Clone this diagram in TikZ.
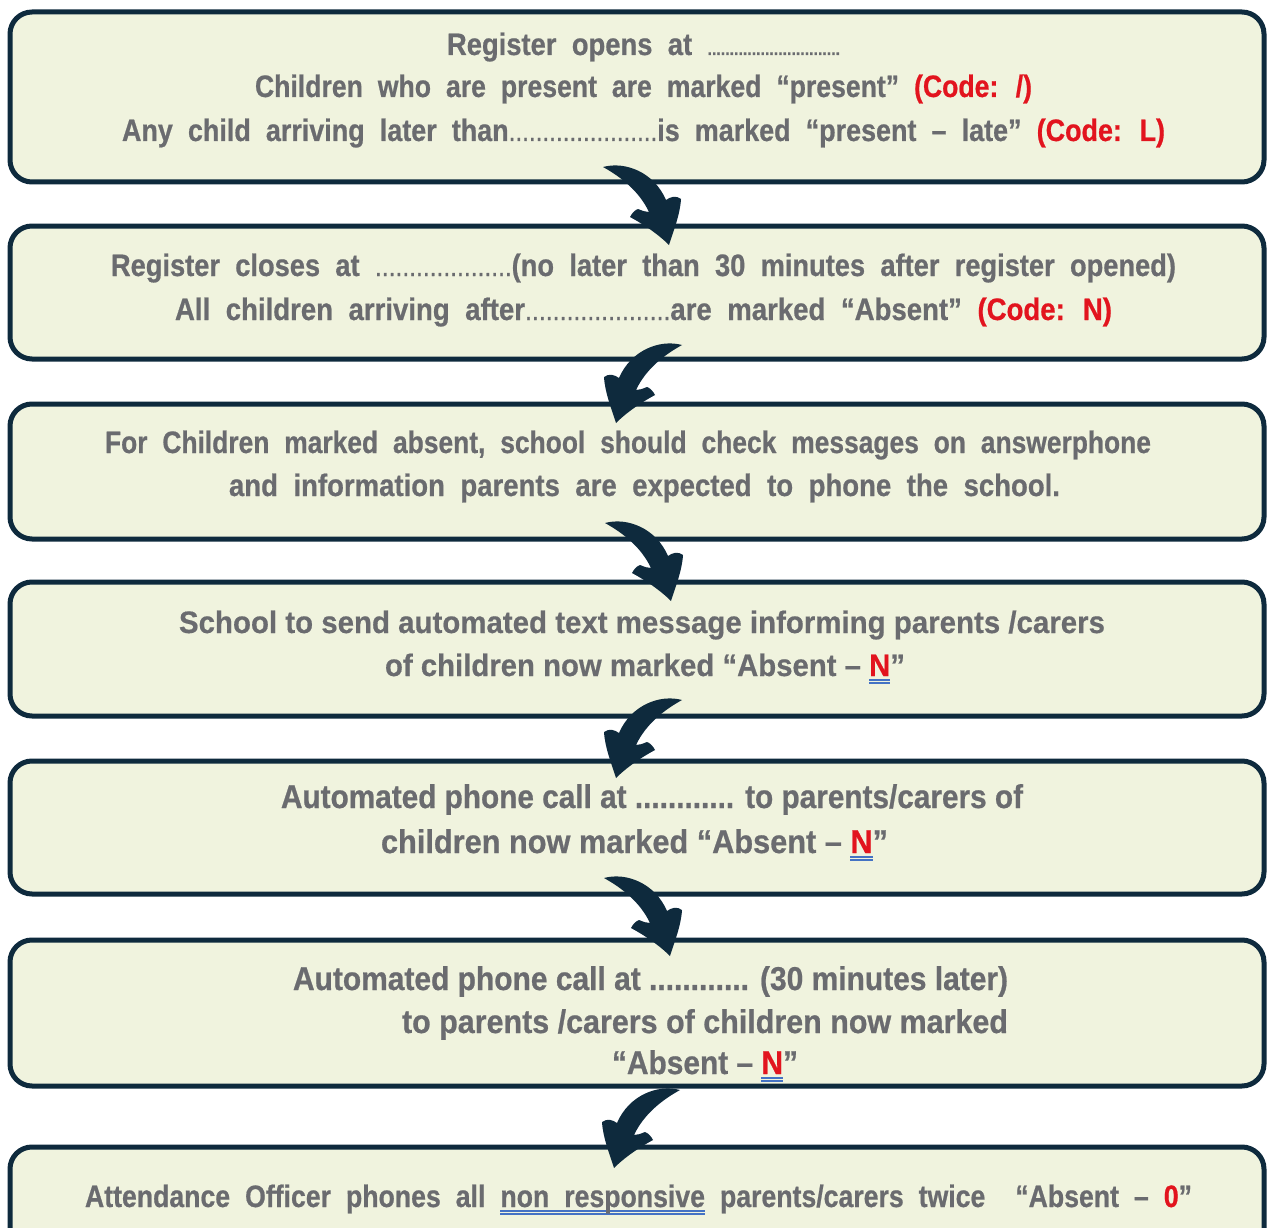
\documentclass[tikz,border=0pt]{standalone}
\usepackage{fontspec}
\usepackage{graphicx}
\newfontfamily\condfont[FakeStretch=0.8,FakeBold=0.6]{Liberation Sans}
\newfontfamily\widefont[FakeBold=0.5]{Liberation Sans}
\definecolor{boxfill}{RGB}{240,243,222}
\definecolor{boxline}{RGB}{14,42,61}
\definecolor{txtgray}{RGB}{106,107,111}
\definecolor{codered}{RGB}{226,20,30}
\definecolor{ulblue}{RGB}{68,114,196}
\newdimen\fitlen
\newsavebox\fitbox
\newsavebox\ulbox
\newcommand\fitline[2]{\sbox\fitbox{#2}\fitlen=\wd\fitbox\pgfmathsetmacro\fitsc{#1/\fitlen}\scalebox{\fitsc}[1]{\usebox\fitbox}}
\newcommand\dul[1]{\sbox\ulbox{#1}\rlap{\color{ulblue}\rule[-4.5pt]{\wd\ulbox}{1.1pt}}\rlap{\color{ulblue}\rule[-7.5pt]{\wd\ulbox}{1.1pt}}\usebox\ulbox}
\newcommand\rd[1]{\textcolor{codered}{#1}}
\newcommand\widesp{\spaceskip 0.45em\relax}
\newcommand\condmid{\condfont\bfseries\fontsize{31}{36}\selectfont}
\newcommand\condbig{\condfont\bfseries\fontsize{33}{38}\selectfont}
\newcommand\plainbig{\widefont\bfseries\fontsize{31}{36}\selectfont}
\newcommand\lightdots[1]{{\mdseries\fontsize{28}{28}\selectfont #1}}
\newcommand\arrowpath{(0,0) .. controls (22,-6) and (51,5) .. (63,33)
  .. controls (67,30) and (73,28) .. (78,32)
  .. controls (77,48) and (71,62) .. (66,78)
  .. controls (55,67) and (40,57) .. (27,50)
  .. controls (29,46) and (32,43) .. (35,42)
  .. controls (40,44) and (43,45) .. (46,45)
  .. controls (36,24) and (18,10) .. (0,0) -- cycle}
\begin{document}
\begin{tikzpicture}[x=1pt,y=-1pt,
  box/.style={draw=boxline, line width=5pt, fill=boxfill, rounded corners=22pt, inner sep=0pt, minimum width=1254pt},
  txt/.style={inner sep=0pt, anchor=base, text=txtgray},
  wide/.style={txt, font={\condmid\widesp}},
  tight/.style={txt, font={\condbig}},
  plain/.style={txt, font={\plainbig}},
  arrowfill/.style={fill=boxline}]
\useasboundingbox (0,0) rectangle (1267,1228);
\clip (0,0) rectangle (1267,1228);
\fill[white] (0,0) rectangle (1267,1228);
% boxes
\node[box, minimum height=170pt] (b1) at (637,97) {};
\node[box, minimum height=133pt] (b2) at (637,292.5) {};
\node[box, minimum height=135pt] (b3) at (637,471.5) {};
\node[box, minimum height=134pt] (b4) at (637,649) {};
\node[box, minimum height=133pt] (b5) at (637,827.5) {};
\node[box, minimum height=146pt] (b6) at (637,1013) {};
\node[box, minimum height=113pt] (b7) at (637,1203.5) {};
% arrows
\coordinate (a1) at (603,167);
\coordinate (a2) at (682,345);
\coordinate (a3) at (605,523);
\coordinate (a4) at (682,700);
\coordinate (a5) at (604,878);
\coordinate (a6) at (680,1090);
\begin{scope}[shift={(a1)}]\fill[arrowfill] \arrowpath;\end{scope}
\begin{scope}[shift={(a2)},xscale=-1]\fill[arrowfill] \arrowpath;\end{scope}
\begin{scope}[shift={(a3)}]\fill[arrowfill] \arrowpath;\end{scope}
\begin{scope}[shift={(a4)},xscale=-1]\fill[arrowfill] \arrowpath;\end{scope}
\begin{scope}[shift={(a5)}]\fill[arrowfill] \arrowpath;\end{scope}
\begin{scope}[shift={(a6)},xscale=-1]\fill[arrowfill] \arrowpath;\end{scope}
% box 1
\node[wide] (t11) at (643.5,55) {\fitline{393}{Register opens at {\fontsize{18}{18}\selectfont ..............................}}};
\node[wide] (t12) at (643.5,97) {\fitline{777}{Children who are present are marked “present” \rd{(Code: /)}}};
\node[wide] (t13) at (643.5,141) {\fitline{1043}{Any child arriving later than\lightdots{......................}is marked “present – late” \rd{(Code: L)}}};
% box 2
\node[wide] (t21) at (643.5,276) {\fitline{1065}{Register closes at \lightdots{....................}(no later than 30 minutes after register opened)}};
\node[wide] (t22) at (643.5,320) {\fitline{937}{All children arriving after\lightdots{.....................}are marked “Absent” \rd{(Code: N)}}};
% box 3
\node[wide] (t31) at (628,453) {\fitline{1046}{For Children marked absent, school should check messages on answerphone}};
\node[wide] (t32) at (644.5,496) {\fitline{831}{and information parents are expected to phone the school.}};
% box 4
\node[plain] (t41) at (642,633) {\fitline{926}{School to send automated text message informing parents /carers}};
\node[plain] (t42) at (645,676) {\fitline{520}{of children now marked “Absent – \dul{\rd{N}}”}};
% box 5
\node[tight] (t51) at (652,808) {\fitline{742}{Automated phone call at ............ to parents/carers of}};
\node[tight] (t52) at (634.5,853) {\fitline{507}{children now marked “Absent – \dul{\rd{N}}”}};
% box 6
\node[tight] (t61) at (650.5,990) {\fitline{715}{Automated phone call at ............ (30 minutes later)}};
\node[tight] (t62) at (705,1033) {\fitline{606}{to parents /carers of children now marked}};
\node[tight] (t63) at (705,1074) {\fitline{186}{“Absent – \dul{\rd{N}}”}};
% box 7
\node[wide] (t71) at (638.5,1207) {\fitline{1107}{Attendance Officer phones all \dul{non responsive} parents/carers twice \ “Absent – \rd{0}”}};
\end{tikzpicture}
\end{document}
